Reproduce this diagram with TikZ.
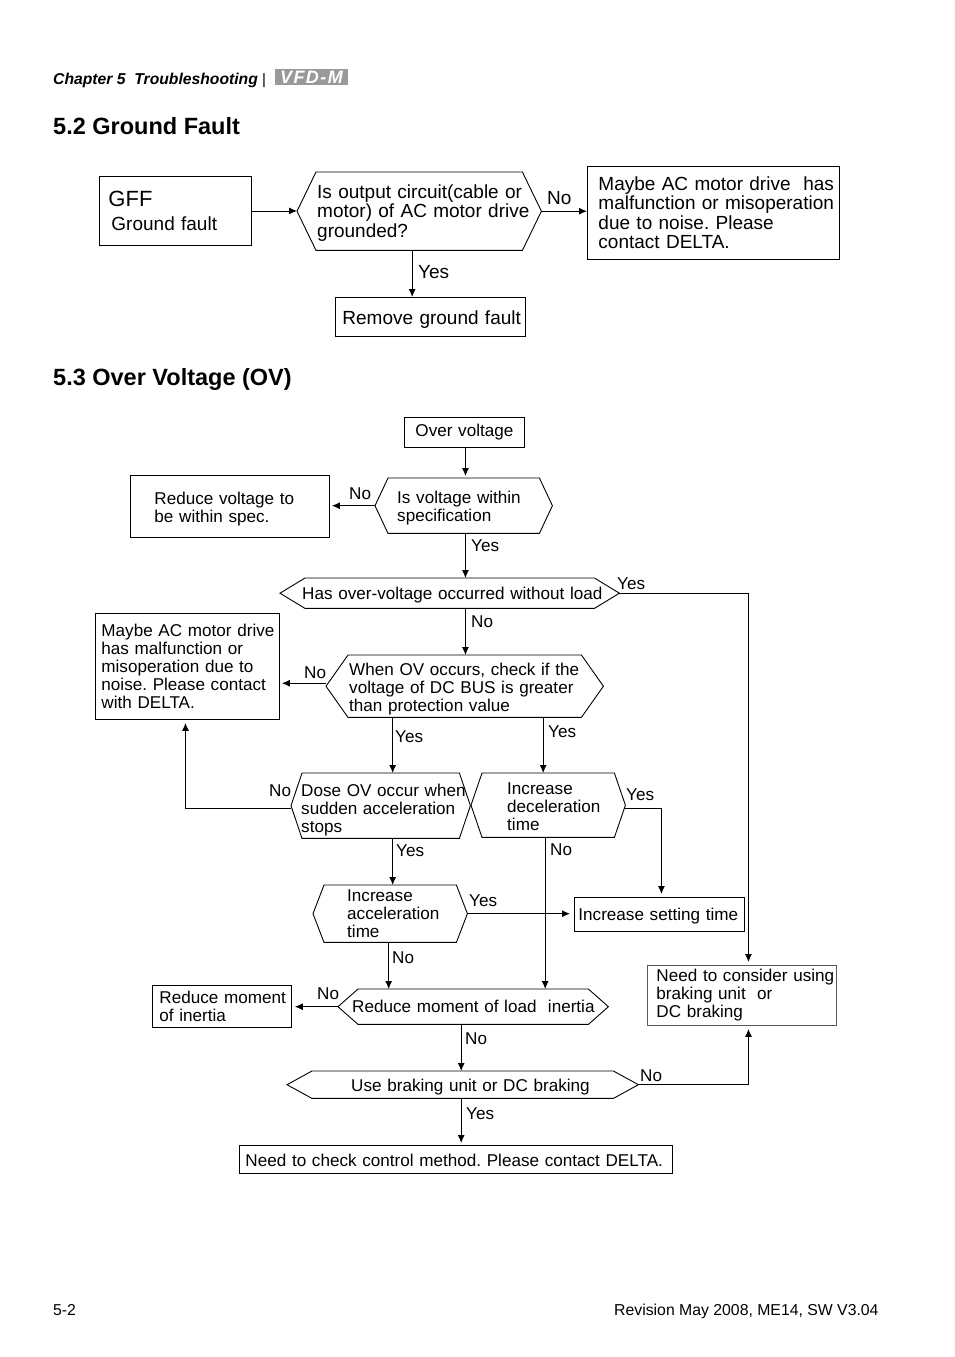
\documentclass[tikz,border=0pt]{standalone}
\usepackage{fontspec}
\setmainfont{Liberation Sans}
\usetikzlibrary{arrows.meta}
\frenchspacing
\tikzset{
	sz/.style n args={3}{anchor=north west,inner sep=0pt,minimum width=#1pt,minimum height=#2pt,text width=#1pt,align=left,
		execute at begin node={\leftskip=#3pt\rightskip=-40pt plus 1fil\relax}},
	dn/.style={execute at begin node={\rule{0pt}{#1pt}}},
	big/.style={font=\fontsize{19}{19.5}\selectfont},
	small/.style={font=\fontsize{17.1}{18}\selectfont},
	box/.style={draw,line width=0.9pt},
	lab/.style={inner sep=0pt,anchor=base west},
	arr/.style={-{Latex[length=8pt,width=7pt]},line width=0.9pt}
}
\begin{document}
\begin{tikzpicture}[x=1pt,y=-1pt]
\useasboundingbox (0,0) rectangle (954,1357);
% page furniture
\node[lab,font=\fontsize{15.7}{18}\bfseries\itshape\selectfont] (chap) at (53,84) {Chapter 5\ \ Troubleshooting};
\node[lab,font=\fontsize{15}{18}\selectfont] (bar) at (262,84) {|};
\node[inner sep=0pt,fill=black!40,text=white,minimum width=73pt,minimum height=16pt,text height=13pt,text depth=0pt,font=\fontsize{18}{15}\bfseries\itshape\addfontfeature{LetterSpace=8}\selectfont] (logo) at (311.5,77) {VFD-M};
\node[lab,font=\fontsize{23.5}{26}\bfseries\selectfont] (sec2) at (53,134) {5.2 Ground Fault};
\node[lab,font=\fontsize{23.5}{26}\bfseries\selectfont] (sec3) at (53,385) {5.3 Over Voltage (OV)};
\node[lab,font=\fontsize{15.8}{18}\selectfont] (pg) at (53,1315) {5-2};
\node[lab,font=\fontsize{15.8}{18}\selectfont] (rev) at (614,1315) {Revision May 2008, ME14, SW V3.04};

% ground fault
\node[box,big,sz={152}{69}{9}] (gff) at (99,176) {{\fontsize{22}{26}\selectfont GFF}\\[4pt]\hspace*{3pt}Ground fault};
\node[big,sz={244}{78}{20},dn=17] (gnd) at (297,172) {Is output circuit(cable or\\motor) of AC motor drive\\grounded?};
\node[box,big,sz={252}{93}{11}] (motor) at (587,166) {Maybe AC motor drive\ \ has\\malfunction or misoperation\\due to noise. Please\\contact DELTA.};
\node[box,big,sz={190}{39}{7},dn=20] (rem) at (335,297) {Remove ground fault};

% over voltage
\node[box,small,sz={120}{30}{11}] (ovv) at (404,417) {Over voltage};
\node[small,sz={177}{55}{22},dn=18] (within) at (375,478) {Is voltage within\\specification};
\node[box,small,sz={199}{62}{24},dn=17] (spec) at (130,475) {Reduce voltage to\\be within spec.};
\node[small,sz={339}{30}{22},dn=17] (noload) at (280,578) {Has over-voltage occurred without load};
\node[box,small,sz={184}{106}{6}] (noise) at (95,613) {Maybe AC motor drive\\has malfunction or\\misoperation due to\\noise. Please contact\\with DELTA.};
\node[small,sz={277}{62}{23},dn=19] (bus) at (326,655) {When OV occurs, check if the\\voltage of DC BUS is greater\\than protection value};
\node[small,sz={179}{65}{10},dn=22] (dose) at (291,773) {Dose OV occur when\\sudden acceleration\\stops};
\node[small,sz={154}{64}{36},dn=15] (incdec) at (471,773) {Increase\\deceleration\\time};
\node[small,sz={154}{57}{34}] (incacc) at (313,885) {Increase\\acceleration\\time};
\node[box,small,sz={170}{34}{4},dn=15] (setting) at (574,897) {Increase setting time};
\node[box,small,draw=black!65,sz={189}{60}{9}] (brkunit) at (647,965) {Need to consider using\\braking unit\ \ or\\DC braking};
\node[box,small,sz={139}{42}{7}] (moment) at (152,985) {Reduce moment\\of inertia};
\node[small,sz={270}{35}{14}] (load) at (338,989) {Reduce moment of load\ \ inertia};
\node[small,sz={351}{27}{64},dn=18] (brake) at (287,1071) {Use braking unit or DC braking};
\node[box,small,sz={433}{28}{6},dn=15] (check) at (239,1145) {Need to check control method. Please contact DELTA.};

% the hexagons
\foreach \n/\i in {gnd/19,within/13,noload/25,bus/22,dose/11,incdec/11,incacc/11,load/20,brake/25}
	\draw[line width=0.9pt] (\n.west) -- ([xshift=\i pt]\n.north west) -- ([xshift=-\i pt]\n.north east) -- (\n.east)
		-- ([xshift=-\i pt]\n.south east) -- ([xshift=\i pt]\n.south west) -- cycle;

% connectors
\coordinate (trunk) at ([xshift=1pt]ovv.south);
\draw[arr] (gff.east) -- (gff.east -| gnd.west);
\draw[arr] (gnd.east) -- (gnd.east -| motor.west);
\draw[arr] ([xshift=-7pt]gnd.south) -- ([xshift=-7pt]gnd.south |- rem.north);
\draw[arr] (trunk) -- ([yshift=2pt]trunk |- within.north);
\draw[arr] (within.west) -- ([xshift=2pt]within.west -| spec.east);
\draw[arr] (trunk |- within.south) -- (trunk |- noload.north);
\draw[arr] (noload.east) -| ([xshift=6.5pt,yshift=3pt]brkunit.north);
\draw[arr] (trunk |- noload.south) -- (trunk |- bus.north);
\draw[arr] ([yshift=3pt]bus.west) -- ([xshift=2pt,yshift=3pt]bus.west -| noise.east);
\draw[arr] ([xshift=-72pt]bus.south) -- ([xshift=-72pt]bus.south |- dose.north);
\draw[arr] ([xshift=78.5pt]bus.south) -- ([xshift=78.5pt]bus.south |- incdec.north);
\draw[arr] ([yshift=-2.5pt]dose.west) -| ([xshift=-2pt,yshift=-3pt]noise.south);
\draw[arr] ([yshift=-3pt]incdec.east) -| ([xshift=2pt,yshift=3pt]setting.north);
\draw[arr] ([xshift=12pt]dose.south) -- ([xshift=12pt]dose.south |- incacc.north);
\draw[arr] (incacc.east) -- ([xshift=-4pt]incacc.east -| setting.west);
\draw[arr] ([xshift=-1.5pt]incacc.south) -- ([xshift=-1.5pt]incacc.south |- load.north);
\draw[arr] ([xshift=-3pt]incdec.south) -- ([xshift=-3pt]incdec.south |- load.north);
\draw[arr] (load.west) -- ([xshift=3pt]load.west -| moment.east);
\draw[arr] ([xshift=-12pt]load.south) -- ([xshift=-12pt]load.south |- brake.north);
\draw[arr] (brake.east) -| ([xshift=6.5pt,yshift=-3pt]brkunit.south);
\draw[arr] ([xshift=-1.5pt]brake.south) -- ([xshift=-1.5pt,yshift=2pt]brake.south |- check.north);

% labels
\node[lab,big] (a1) at (547,204) {No};
\node[lab,big] (a2) at (418,278) {Yes};
\node[lab,small] (b1) at (349,499) {No};
\node[lab,small] (b2) at (471,551) {Yes};
\node[lab,small] (b3) at (617,589) {Yes};
\node[lab,small] (b4) at (471,627) {No};
\node[lab,small] (b5) at (304,678) {No};
\node[lab,small] (b6) at (395,742) {Yes};
\node[lab,small] (b7) at (548,737) {Yes};
\node[lab,small] (b8) at (269,796) {No};
\node[lab,small] (b9) at (626,800) {Yes};
\node[lab,small] (b10) at (396,856) {Yes};
\node[lab,small] (b11) at (550,855) {No};
\node[lab,small] (b12) at (469,906) {Yes};
\node[lab,small] (b13) at (392,963) {No};
\node[lab,small] (b14) at (317,999) {No};
\node[lab,small] (b15) at (465,1044) {No};
\node[lab,small] (b16) at (640,1081) {No};
\node[lab,small] (b17) at (466,1119) {Yes};
\end{tikzpicture}
\end{document}
